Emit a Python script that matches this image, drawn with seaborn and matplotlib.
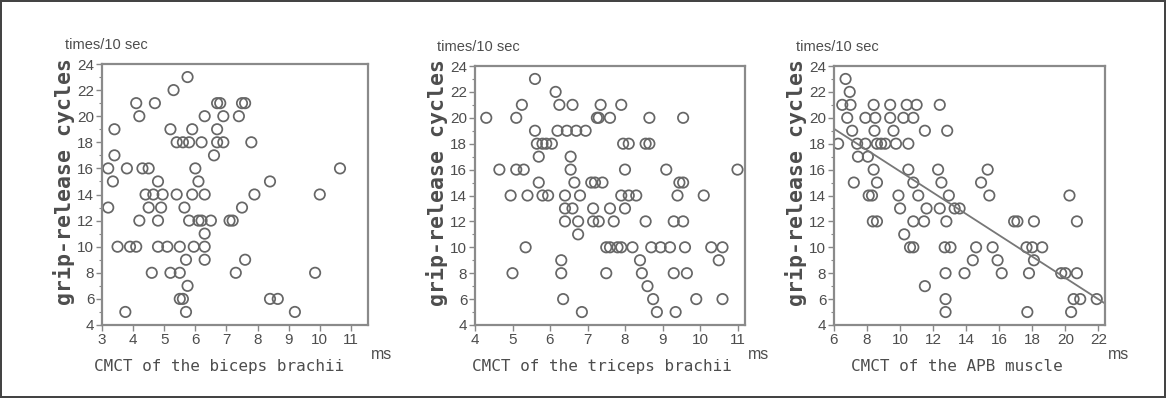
import numpy as np
import pandas as pd
import matplotlib
matplotlib.use("Agg")
import matplotlib.pyplot as plt
import seaborn as sns

# ---- data ----
biceps_x = [3.2, 3.35, 3.4, 3.4, 3.2, 3.5, 3.75, 3.8, 3.9, 4.1, 4.1, 4.2, 4.2, 4.3, 4.4,
            4.5, 4.5, 4.6, 4.65, 4.7, 4.8, 4.8, 4.8, 4.9, 4.95, 5.1, 5.2, 5.2, 5.3, 5.4,
            5.5, 5.4, 5.5, 5.5, 5.6, 5.6, 5.7, 5.65, 5.7, 5.75, 5.75, 5.8, 5.8, 5.9, 5.95,
            5.9, 6.0, 6.1, 6.1, 6.2, 6.2, 6.3, 6.3, 6.3, 6.3, 6.3, 6.5, 6.6, 6.7, 6.7,
            6.8, 6.7, 6.9, 6.9, 7.1, 7.2, 7.3, 7.4, 7.5, 7.6, 7.5, 7.6, 7.8, 7.9, 8.4,
            8.4, 8.65, 9.2, 9.85, 10.0, 10.65]
biceps_y = [16, 15, 17, 19, 13, 10, 5, 16, 10, 10, 21, 20, 12, 16, 14,
            16, 13, 8, 14, 21, 10, 15, 12, 13, 14, 10, 19, 8, 22, 14,
            8, 18, 10, 6, 6, 18, 9, 13, 5, 23, 7, 12, 18, 19, 10,
            14, 16, 12, 15, 18, 12, 10, 9, 11, 14, 20, 12, 17, 21, 19,
            21, 18, 18, 20, 12, 12, 8, 20, 21, 21, 13, 9, 18, 14, 15,
            6, 6, 5, 8, 14, 16]

triceps_x = [4.3, 4.65, 4.95, 5.0, 5.1, 5.1, 5.25, 5.3, 5.35, 5.4, 5.6, 5.6, 5.65, 5.7,
             5.7, 5.8, 5.8, 5.9, 5.95, 6.05, 6.15, 6.2, 6.25, 6.3, 6.3, 6.35, 6.4, 6.4,
             6.4, 6.45, 6.55, 6.55, 6.6, 6.6, 6.65, 6.7, 6.75, 6.75, 6.8, 6.85, 6.95,
             7.1, 7.15, 7.15, 7.2, 7.25, 7.3, 7.3, 7.35, 7.4, 7.5, 7.5, 7.6, 7.6, 7.6,
             7.7, 7.8, 7.9, 7.9, 7.9, 7.95, 8.0, 8.0, 8.1, 8.1, 8.2, 8.3, 8.4, 8.45,
             8.55, 8.55, 8.6, 8.65, 8.65, 8.7, 8.75, 8.85, 8.95, 9.1, 9.2, 9.3, 9.3,
             9.35, 9.4, 9.45, 9.55, 9.55, 9.55, 9.6, 9.65, 9.9, 10.1, 10.3, 10.5, 10.6,
             10.6, 11.0]
triceps_y = [20, 16, 14, 8, 20, 16, 21, 16, 10, 14, 23, 19, 18, 15,
             17, 14, 18, 18, 14, 18, 22, 19, 21, 9, 8, 6, 14, 13,
             12, 19, 17, 16, 21, 13, 15, 19, 11, 12, 14, 5, 19,
             15, 12, 13, 15, 20, 12, 20, 21, 15, 10, 8, 10, 20, 13,
             12, 10, 10, 21, 14, 18, 16, 13, 18, 14, 10, 14, 9, 8,
             18, 12, 7, 18, 20, 10, 6, 5, 10, 16, 10, 12, 8,
             5, 14, 15, 15, 20, 12, 10, 8, 6, 14, 10, 9, 6,
             10, 16]

apb_x = [6.7, 6.95, 6.5, 7.0, 6.8, 7.1, 7.2, 6.25, 7.4, 7.45, 7.9, 7.9, 8.05, 8.1, 8.3,
         8.35, 8.4, 8.4, 8.45, 8.5, 8.6, 8.6, 8.6, 8.85, 9.1, 9.4, 9.4, 9.6, 9.75, 9.9,
         10.0, 10.25, 10.2, 10.4, 10.5, 10.5, 10.6, 10.8, 10.8, 10.8, 10.8, 11.0, 11.1,
         11.5, 11.45, 11.5, 11.6, 12.4, 12.3, 12.4, 12.5, 12.7, 12.75, 12.75, 12.75,
         12.8, 12.85, 12.95, 13.05, 13.3, 13.6, 13.9, 14.4, 14.6, 14.9, 15.3, 15.4,
         15.6, 15.9, 16.15, 16.9, 17.1, 17.7, 17.65, 17.8, 18.0, 18.1, 18.1, 18.6,
         19.75, 20.0, 20.25, 20.35, 20.5, 20.7, 20.7, 20.9, 21.9]
apb_y = [23, 22, 21, 21, 20, 19, 15, 18, 18, 17, 20, 18, 17, 14, 14,
         12, 16, 21, 19, 20, 18, 15, 12, 18, 18, 20, 21, 19, 18, 14,
         13, 11, 20, 21, 18, 16, 10, 12, 10, 15, 20, 21, 14,
         19, 12, 7, 13, 21, 16, 13, 15, 10, 8, 6, 5,
         12, 19, 14, 10, 13, 13, 8, 9, 10, 15, 16, 14,
         10, 9, 8, 12, 12, 5, 10, 8, 10, 9, 12, 10,
         8, 8, 14, 5, 6, 8, 12, 6, 6]

panels = [
    ("CMCT of the biceps brachii", biceps_x, biceps_y, (3, 11.55), [3, 4, 5, 6, 7, 8, 9, 10, 11], False, 0.44),
    ("CMCT of the triceps brachii", triceps_x, triceps_y, (4, 11.2), [4, 5, 6, 7, 8, 9, 10, 11], False, 0.47),
    ("CMCT of the APB muscle", apb_x, apb_y, (6, 22.4), [6, 8, 10, 12, 14, 16, 18, 20, 22], True, 0.455),
]
y_ticks = [4, 6, 8, 10, 12, 14, 16, 18, 20, 22, 24]

sns.set_style("white")
plt.rcParams["font.family"] = ["Liberation Sans", "DejaVu Sans"]

W, H = 1166, 398
fig = plt.figure(figsize=(W / 100, H / 100), dpi=100)
fig.patch.set_edgecolor("#444444")
fig.patch.set_linewidth(1.5)

boxes = [(102, 64, 368, 325), (475, 66, 745, 325), (834, 66, 1105, 325)]
gray = "#666666"
txt = "#4d4d4d"
mono = ["DejaVu Sans Mono"]

for (label, xs, ys, xlim, xt, fit, xlab_pos), (l, t, r, b) in zip(panels, boxes):
    ax = fig.add_axes([l / W, 1 - b / H, (r - l) / W, (b - t) / H])
    df = pd.DataFrame({"x": xs, "y": ys})
    sns.scatterplot(data=df, x="x", y="y", ax=ax, marker="o", s=56,
                    facecolors="none", edgecolor=gray, linewidth=1.25)
    if fit:
        sns.regplot(data=df, x="x", y="y", ax=ax, scatter=False, ci=None,
                    truncate=False, line_kws={"color": "#777777", "linewidth": 1.3})
    ax.set_xlim(*xlim)
    ax.set_ylim(4, 24)
    ax.set_xticks(xt)
    ax.set_yticks(y_ticks)
    ax.set_yticks(range(4, 25), minor=True)
    ax.tick_params(axis="both", which="major", direction="out", length=4, width=1,
                   color="#888888", labelsize=11, labelcolor=txt, pad=1.5)
    ax.tick_params(axis="y", which="minor", direction="out", length=2.5, width=0.8,
                   color="#888888", left=True)
    ax.tick_params(left=True, bottom=True)
    for s in ax.spines.values():
        s.set_color("#8a8a8a")
        s.set_linewidth(1.6)
    ax.set_xlabel(label, fontsize=11.5, color=txt, family=mono)
    ax.xaxis.set_label_coords(xlab_pos, -0.13)
    ax.set_ylabel("grip-release cycles", fontsize=15.5, color=txt,
                  family=mono, fontweight="bold")
    ax.yaxis.set_label_coords(-0.1, 0.55)
    ax.text(1.01, -0.085, "ms", transform=ax.transAxes, fontsize=11.5,
            color=txt, ha="left", va="top")
    ax.text(-0.14, 1.045, "times/10 sec", transform=ax.transAxes, fontsize=10.5,
            color=txt, ha="left", va="bottom")

fig.savefig("out.png", dpi=100)
